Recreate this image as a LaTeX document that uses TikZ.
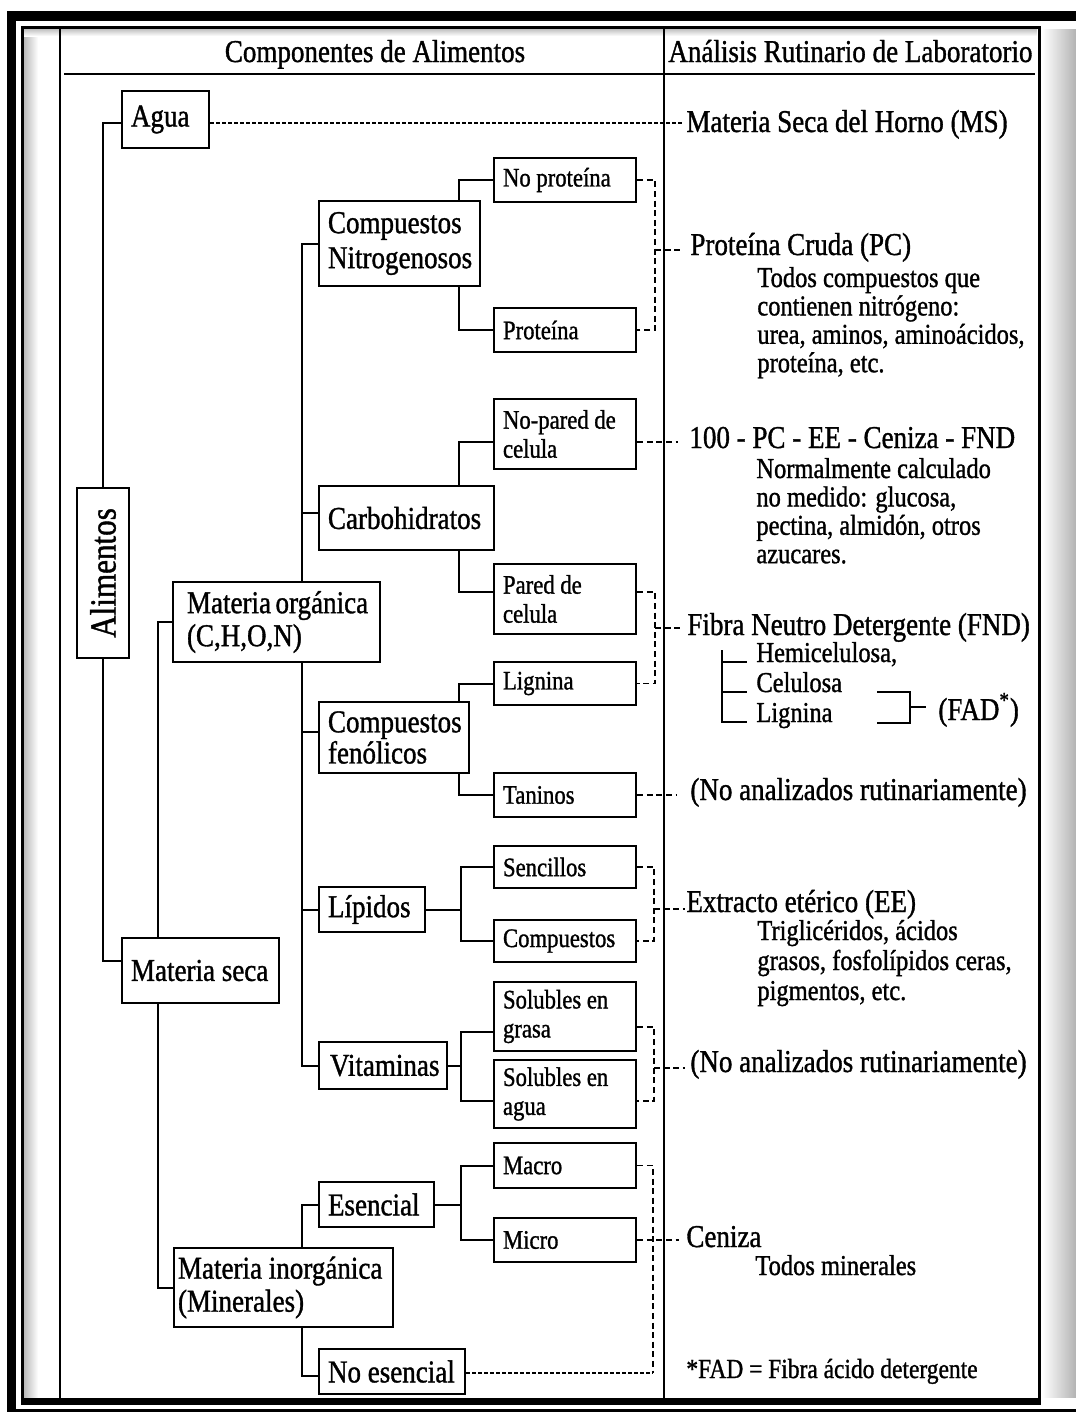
\documentclass[tikz,border=0pt]{standalone}
\usepackage{fontspec}
\setmainfont{Liberation Serif}[FakeStretch=0.85, FakeBold=1.1]
\usetikzlibrary{calc}
\hyphenpenalty=10000 \exhyphenpenalty=10000 \lineskiplimit=-30pt
\pgfdeclarelayer{bg}\pgfsetlayers{bg,main}
\newcommand\fbig{\fontsize{15.9}{17.5}\selectfont}
\newcommand\fbigA{\fontsize{15.9}{16.5}\selectfont}
\newcommand\fbigB{\fontsize{15.9}{14}\selectfont}
\newcommand\fsmall{\fontsize{13.35}{14.5}\selectfont}
\newcommand\fsub{\fontsize{14.4}{14.2}\selectfont}
\newcommand\fsubB{\fontsize{14.4}{15}\selectfont}
\newcommand\ffoot{\fontsize{13.8}{15}\selectfont}
\newcommand\frot{\fontsize{18.3}{20}\selectfont}
\newcommand\bx[8][9]{%
  \pgfmathsetmacro\bxw{(#6-#4)*0.5}%
  \pgfmathsetmacro\bxh{(#7-#5)*0.5}%
  \pgfmathsetmacro\bxt{(#6-#4-2*#1)*0.5}%
  \pgfmathsetmacro\bxp{#1*0.5}%
  \node[box,#3,minimum width=\bxw pt,minimum height=\bxh pt,text width=\bxt pt,inner xsep=\bxp pt] (#2) at ({(#4+#6)/2},{(#5+#7)/2}) {#8};}
\begin{document}
\begin{tikzpicture}[x=0.5pt,y=-0.5pt,
  box/.style={draw, line width=1.2pt, fill=white, align=flush left, inner ysep=0pt, font=\fbig},
  sm/.style={font=\fsmall},
  conn/.style={line width=1pt},
  dsh/.style={line width=0.75pt, dash pattern=on 3pt off 1.8pt},
  dotl/.style={line width=0.75pt, dash pattern=on 2pt off 1pt},
  rt/.style={inner sep=0pt, anchor=base west, font=\fbig},
  sub/.style={inner sep=0pt, anchor=base west, font=\fsub, align=flush left, text width=160pt}]
\useasboundingbox (0,0) rectangle (1076,1414);

% ---------- boxes ----------
\bx{agua}{}{122}{91}{209}{148}{Agua}
\bx[14]{morg}{font=\fbigA}{173}{582}{380}{662}{Materia~orgánica\\(C,H,O,N)}
\bx{mseca}{}{122}{938}{279}{1003}{Materia~seca}
\bx[4]{minorg}{font=\fbigA}{174}{1248}{393}{1327}{Materia~inorgánica\\(Minerales)}
\bx{cnit}{}{319}{201}{480}{286}{Compuestos\\Nitrogenosos}
\bx{carb}{}{319}{486}{494}{550}{Carbohidratos}
\bx{cfen}{font=\fbigB}{319}{702}{469}{773}{Compuestos\\fenólicos}
\bx{lip}{}{319}{887}{425}{932}{Lípidos}
\bx[11]{vit}{}{319}{1042}{447}{1089}{Vitaminas}
\bx{esen}{}{319}{1182}{434}{1227}{Esencial}
\bx{noesen}{}{319}{1349}{465}{1394}{No~esencial}
\bx{noprot}{sm}{494}{158}{636}{202}{No~proteína}
\bx{prot}{sm}{494}{308}{636}{352}{Proteína}
\bx{nopared}{sm}{494}{399}{636}{469}{No-pared~de\\celula}
\bx{pared}{sm}{494}{564}{636}{634}{Pared~de\\celula}
\bx{lign}{sm}{494}{662}{636}{705}{Lignina}
\bx{tan}{sm}{494}{773}{636}{817}{Taninos}
\bx{senc}{sm}{494}{846}{636}{888}{Sencillos}
\bx{comp}{sm}{494}{920}{636}{962}{Compuestos}
\bx{solg}{sm}{494}{982}{636}{1051}{Solubles~en\\grasa}
\bx{sola}{sm}{494}{1060}{636}{1128}{Solubles~en\\agua}
\bx{macro}{sm}{494}{1143}{636}{1188}{Macro}
\bx{micro}{sm}{494}{1218}{636}{1262}{Micro}
\node[box, rotate=90, font=\frot, minimum width=85pt, minimum height=26pt, inner sep=0pt, align=center] (alim) at (103,573) {Alimentos};

% ---------- header + right column texts ----------
\node[inner sep=0pt, anchor=base, font=\fbig] (hdr1) at (375,62) {Componentes de Alimentos};
\node[rt] (hdr2) at (668,62) {Análisis Rutinario de Laboratorio};
\node[rt] (ms) at (686,132) {Materia Seca del Horno (MS)};
\node[rt] (pc) at (690,255) {Proteína Cruda (PC)};
\node[sub] (pcd) at (757,287) {Todos compuestos que\\contienen nitrógeno:\\urea, aminos, aminoácidos,\\proteína, etc.};
\node[rt] (cien) at (689,448) {100 - PC - EE - Ceniza - FND};
\node[sub] (ciend) at (756,478) {Normalmente calculado\\no medido: glucosa,\\pectina, almidón, otros\\azucares.};
\node[rt] (fnd) at (687,635) {Fibra Neutro Detergente (FND)};
\node[inner sep=0pt, anchor=base west, font=\fsub] (hemi) at (756,662) {Hemicelulosa,};
\node[inner sep=0pt, anchor=base west, font=\fsub] (celu) at (756,692) {Celulosa};
\node[inner sep=0pt, anchor=base west, font=\fsub] (ligr) at (756,722) {Lignina};
\node[rt] (fad) at (938,720) {(FAD\textsuperscript{*})};
\node[rt] (tanna) at (690,800) {(No analizados rutinariamente)};
\node[rt] (ee) at (686,912) {Extracto etérico (EE)};
\node[sub, font=\fsubB] (eed) at (757,940) {Triglicéridos, ácidos\\grasos, fosfolípidos ceras,\\pigmentos, etc.};
\node[rt] (vitna) at (690,1072) {(No analizados rutinariamente)};
\node[rt] (cen) at (686,1247) {Ceniza};
\node[inner sep=0pt, anchor=base west, font=\fsub] (cend) at (755,1275) {Todos minerales};
\node[inner sep=0pt, anchor=base west, font=\ffoot] (foot) at (686,1378) {*FAD = Fibra ácido detergente};

% ---------- junction coordinates ----------
\coordinate (t1) at (103,0);
\coordinate (t2) at (158,0);
\coordinate (t3) at (302,0);
\coordinate (t4) at (459,0);
\coordinate (t5) at (461,0);
\coordinate (d1) at (655,0);
\coordinate (pcm) at (655,250);
\coordinate (fndm) at (655,628);
\coordinate (eem) at (654,909);
\coordinate (vitm) at (654,1068);
\coordinate (cenv) at (653,0);
\coordinate (fb) at (722,650);
\coordinate (fa1) at (877,692);
\coordinate (fa2) at (877,723);
\coordinate (fav) at (910,0);
\coordinate (fam) at (910,707);

\begin{pgfonlayer}{bg}
% frame
\fill[black] (7,11) rectangle (1076,21);
\fill[black] (7,11) rectangle (16,1412);
\fill[black] (16,1409) rectangle (1076,1412);
\shade[left color=gray!55, right color=white] (24,28) rectangle (38,1398);
\shade[top color=gray!55, bottom color=white] (24,28) rectangle (1037,36);
\shade[left color=white, right color=gray!60] (1042,29) rectangle (1076,1397);
\draw[line width=1.5pt] (22.5,27) rectangle (1039.5,1401);
\fill[black] (21,1398) rectangle (1041,1405);
% table
\draw[line width=1pt] (60,28) -- (60,1398);
\draw[line width=1.2pt] (64,74) -- (1035,74);
\draw[line width=1pt] (664,28) -- (664,1398);

% solid tree connectors
\draw[conn] ([yshift=-1.75pt]agua.west) -- ([yshift=-1.75pt]agua.west -| t1) -- ([yshift=4.75pt]mseca.west -| t1) -- ([yshift=4.75pt]mseca.west);
\draw[conn] (morg.west) -- (morg.west -| t2) -- (minorg.west -| t2) -- (minorg.west);
\draw[conn] (cnit.west) -- (cnit.west -| t3) -- (vit.west -| t3) -- (vit.west);
\draw[conn] ([yshift=2.5pt]carb.west) -- ([yshift=2.5pt]carb.west -| t3);
\draw[conn] ([yshift=2.75pt]cfen.west) -- ([yshift=2.75pt]cfen.west -| t3);
\draw[conn] (lip.west) -- (lip.west -| t3);
\draw[conn] (esen.west) -- (esen.west -| t3) -- ([yshift=-2pt]noesen.west -| t3) -- ([yshift=-2pt]noesen.west);
\draw[conn] (noprot.west) -- (noprot.west -| t4) -- (prot.west -| t4) -- (prot.west);
\draw[conn] ([yshift=-4pt]nopared.west) -- ([yshift=-4pt]nopared.west -| t4) -- ([yshift=3.5pt]pared.west -| t4) -- ([yshift=3.5pt]pared.west);
\draw[conn] (lign.west) -- (lign.west -| t4) -- (tan.west -| t4) -- (tan.west);
\draw[conn] (lip.east) -- (lip.east -| t5);
\draw[conn] (senc.west) -- (senc.west -| t5) -- (comp.west -| t5) -- (comp.west);
\draw[conn] (vit.east) -- (vit.east -| t5);
\draw[conn] ([yshift=-7.75pt]solg.west) -- ([yshift=-7.75pt]solg.west -| t5) -- ([yshift=-3.5pt]sola.west -| t5) -- ([yshift=-3.5pt]sola.west);
\draw[conn] (esen.east) -- (esen.east -| t5);
\draw[conn] (macro.west) -- (macro.west -| t5) -- (micro.west -| t5) -- (micro.west);

% dashed connectors to lab analyses
\draw[dotl, shorten >=1.5pt] ([yshift=-1.75pt]agua.east) -- ([yshift=-1.75pt]agua.east -| ms.west);
\draw[dsh] (noprot.east) -- (noprot.east -| d1) -- (prot.east -| d1) -- (prot.east);
\draw[dsh, shorten >=5pt] (pcm) -- (pcm -| pc.west);
\draw[dsh, shorten >=5.5pt] ([yshift=-4pt]nopared.east) -- ([yshift=-4pt]nopared.east -| cien.west);
\draw[dsh] ([yshift=3.5pt]pared.east) -- ([yshift=3.5pt]pared.east -| d1) -- (lign.east -| d1) -- (lign.east);
\draw[dsh, shorten >=3.5pt] (fndm) -- (fndm -| fnd.west);
\draw[dsh, shorten >=7pt] (tan.east) -- (tan.east -| tanna.west);
\draw[dsh] (senc.east) -- (senc.east -| eem) -- (comp.east -| eem) -- (comp.east);
\draw[dsh, shorten >=0.5pt] (eem) -- (eem -| ee.west);
\draw[dsh] ([yshift=-5.25pt]solg.east) -- ([yshift=-5.25pt]solg.east -| vitm) -- ([yshift=-3.5pt]sola.east -| vitm) -- ([yshift=-3.5pt]sola.east);
\draw[dsh, shorten >=2.5pt] (vitm) -- (vitm -| vitna.west);
\draw[dsh] (macro.east) -- (macro.east -| cenv) -- ([yshift=-0.75pt]noesen.east -| cenv);
\draw[dotl] ([yshift=-0.75pt]noesen.east) -- ([yshift=-0.75pt]noesen.east -| cenv);
\draw[dsh, shorten >=3.5pt] (micro.east) -- (micro.east -| cen.west);

% FND / FAD brackets
\draw[conn, shorten >=4.5pt] (fb) |- (hemi.base west);
\draw[conn, shorten >=4.5pt] (fb) |- (celu.base west);
\draw[conn, shorten >=4.5pt] (fb) |- (ligr.base west);
\draw[conn] (fa1) -- (fa1 -| fav) -- (fa2 -| fav) -- (fa2);
\draw[conn, shorten >=6pt] (fam) -- (fam -| fad.west);
\end{pgfonlayer}
\end{tikzpicture}
\end{document}
